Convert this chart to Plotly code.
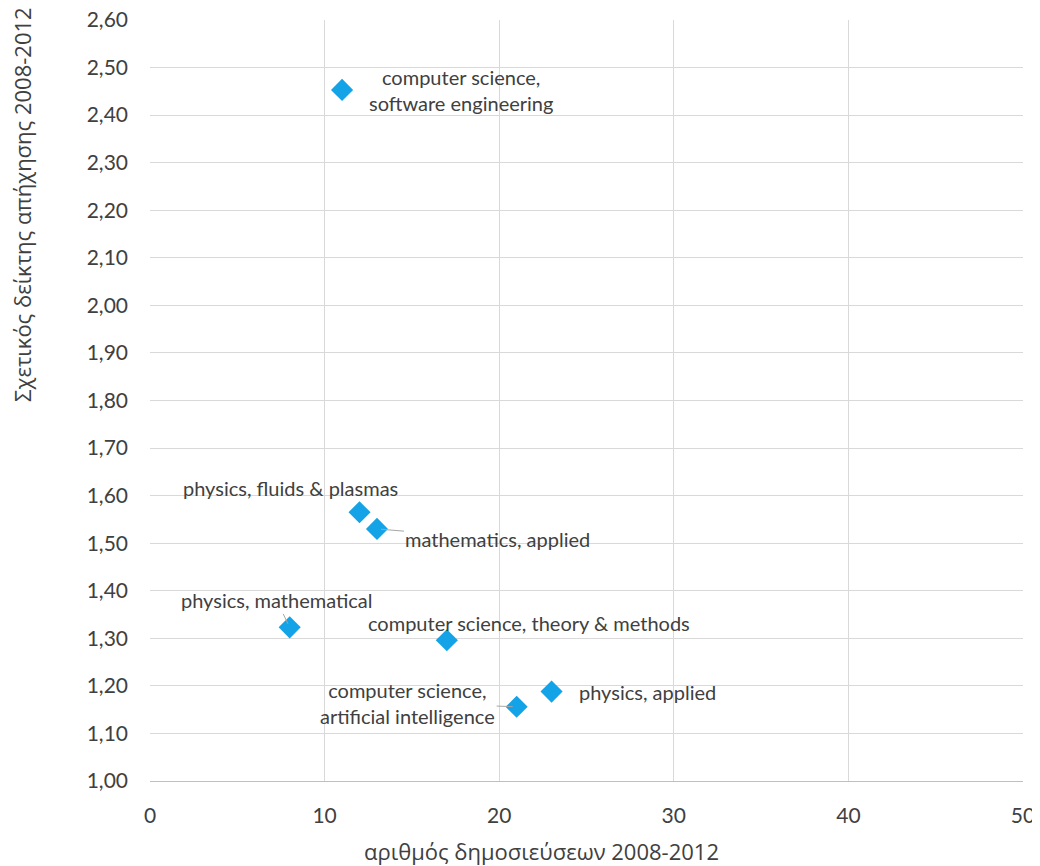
import plotly.graph_objects as go

categories = [
    "computer science,<br>software engineering",
    "physics, fluids & plasmas",
    "mathematics, applied",
    "physics, mathematical",
    "computer science, theory & methods",
    "physics, applied",
    "computer science,<br>artificial intelligence",
]
publications = [11, 12, 13, 8, 17, 23, 21]
citation_index = [2.453, 1.565, 1.530, 1.323, 1.296, 1.188, 1.156]

x_ticks = [0, 10, 20, 30, 40, 50]
y_ticks = [1.0, 1.1, 1.2, 1.3, 1.4, 1.5, 1.6, 1.7, 1.8, 1.9, 2.0, 2.1, 2.2, 2.3, 2.4, 2.5, 2.6]

x_title = "αριθμός δημοσιεύσεων 2008-2012"
y_title = "Σχετικός δείκτης απήχησης 2008-2012"

# label offsets (pixels) and whether a leader line is shown
label_dx = [119, -69, 121, -13, 82, 96, -109]
label_dy = [0, -24, 10, -27, -17, 0, -4]
leader = [False, False, True, True, False, False, True]

FONT = "Lato, Open Sans, sans-serif"
TFONT = "Open Sans, Noto Sans, sans-serif"
TXT = "#404040"

fig = go.Figure()
fig.add_trace(go.Scatter(
    x=publications, y=citation_index, mode="markers",
    marker=dict(symbol="diamond", size=17, color="#14A3E6"),
    showlegend=False, hoverinfo="skip",
))

for cat, x, y, dx, dy, ld in zip(categories, publications, citation_index, label_dx, label_dy, leader):
    fig.add_annotation(
        x=x, y=y, xref="x", yref="y", text=cat,
        showarrow=True, arrowhead=0, arrowwidth=1,
        arrowcolor="#a6a6a6" if ld else "rgba(0,0,0,0)",
        standoff=4, startstandoff=0,
        ax=dx, ay=dy, axref="pixel", ayref="pixel",
        font=dict(family=FONT, size=20, color=TXT),
        align="center",
    )

# axis titles (positioned as in reference)
fig.add_annotation(
    text=x_title, xref="paper", yref="paper", x=(541 - 150) / 873, y=-(851 - 781) / 761,
    showarrow=False, xanchor="center", yanchor="middle",
    font=dict(family=TFONT, size=22, color=TXT),
)
fig.add_annotation(
    text=y_title, xref="paper", yref="paper", x=-(150 - 22) / 873, y=(781 - 205) / 761,
    showarrow=False, xanchor="center", yanchor="middle", textangle=-90,
    font=dict(family=TFONT, size=22, color=TXT),
)

fig.update_layout(
    width=1032, height=858,
    margin=dict(l=142, r=17, t=12, b=85),
    plot_bgcolor="white", paper_bgcolor="white",
    font=dict(family=FONT, color=TXT),
    separators=",.",
)
fig.update_xaxes(
    range=[0, 50], tickvals=x_ticks, showgrid=True, gridcolor="#d9d9d9", gridwidth=1,
    zeroline=False, showline=True, linecolor="#bfbfbf", linewidth=1,
    tickfont=dict(size=21, color=TXT), ticks="", ticklabelstandoff=16,
    automargin=False,
)
fig.update_yaxes(
    range=[1.0, 2.6000001], tickvals=y_ticks, tickformat=".2f", showgrid=True, gridcolor="#d9d9d9", gridwidth=1,
    zeroline=False, showline=False,
    tickfont=dict(size=21, color=TXT), ticks="", ticklabelstandoff=21,
    automargin=False, ticklabeloverflow="allow",
)
fig.write_html("out.html")
